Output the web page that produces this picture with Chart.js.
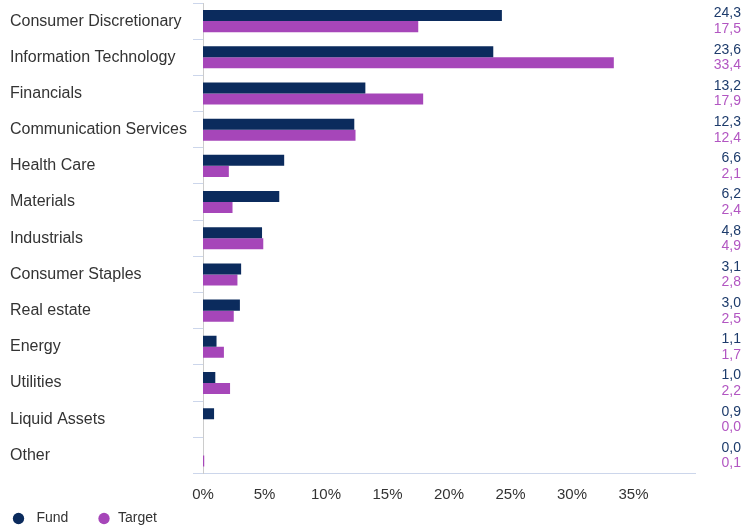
<!DOCTYPE html>
<html>
<head>
<meta charset="utf-8">
<script src="https://cdn.jsdelivr.net/npm/chart.js@4.4.1/dist/chart.umd.min.js"></script>
<style>
  html, body { margin: 0; padding: 0; background: #fff; }
  #wrap { width: 743px; height: 529px; }
</style>
</head>
<body>
<div id="wrap"><canvas id="chart"></canvas></div>
<script>
// Sector weights, in percent
const sectors = ['Consumer Discretionary', 'Information Technology', 'Financials', 'Communication Services',
    'Health Care', 'Materials', 'Industrials', 'Consumer Staples', 'Real estate', 'Energy',
    'Utilities', 'Liquid Assets', 'Other'];
const fundValues = [24.3, 23.6, 13.2, 12.3, 6.6, 6.2, 4.8, 3.1, 3.0, 1.1, 1.0, 0.9, 0.0];
const targetValues = [17.5, 33.4, 17.9, 12.4, 2.1, 2.4, 4.9, 2.8, 2.5, 1.7, 2.2, 0.0, 0.1];
const xTicks = [0, 5, 10, 15, 20, 25, 30, 35];

const fontFamily = '"Liberation Sans", Arial, sans-serif';
const fundColor = '#0b2b5d';
const targetColor = '#a646b9';

// Draw the value column at the right edge of the canvas
const valueLabels = {
    id: 'valueLabels',
    afterDatasetsDraw(chart) {
        const ctx = chart.ctx;
        const textColors = ['#1d3b6b', '#b256c2'];
        const offsets = [-2, 2.5];
        ctx.save();
        ctx.font = '14px ' + fontFamily;
        ctx.textAlign = 'right';
        ctx.textBaseline = 'middle';
        chart.data.datasets.forEach((ds, i) => {
            const meta = chart.getDatasetMeta(i);
            ctx.fillStyle = textColors[i];
            meta.data.forEach((bar, j) => {
                const text = ds.data[j].toFixed(1).replace('.', ',');
                ctx.fillText(text, chart.width - 2, bar.y + offsets[i]);
            });
        });
        ctx.restore();
    }
};

new Chart(document.getElementById('chart'), {
    type: 'bar',
    data: {
        labels: sectors,
        datasets: [{
            label: 'Fund',
            data: fundValues,
            backgroundColor: fundColor,
            barPercentage: 1.0,
            categoryPercentage: 0.61
        }, {
            label: 'Target',
            data: targetValues,
            backgroundColor: targetColor,
            barPercentage: 1.0,
            categoryPercentage: 0.61
        }]
    },
    options: {
        indexAxis: 'y',
        responsive: true,
        maintainAspectRatio: false,
        animation: false,
        layout: {
            padding: { left: 10, right: 48, top: 3, bottom: -6.5 }
        },
        plugins: {
            legend: {
                position: 'bottom',
                align: 'start',
                labels: {
                    usePointStyle: true,
                    pointStyle: 'circle',
                    boxWidth: 14,
                    boxHeight: 8,
                    padding: 1.5,
                    color: '#333333',
                    font: { size: 14, family: fontFamily },
                    // spaces only widen the gaps between the legend entries
                    generateLabels(chart) {
                        const items = Chart.defaults.plugins.legend.labels.generateLabels(chart);
                        items.forEach((item, i) => {
                            if (i === 0) item.text = ' ' + item.text + '       ';
                        });
                        return items;
                    }
                }
            },
            tooltip: { enabled: false }
        },
        scales: {
            x: {
                min: 0,
                max: 40,
                afterBuildTicks(scale) {
                    scale.ticks = xTicks.concat([40]).map(v => ({ value: v }));
                },
                afterFit(scale) {
                    scale.height = 36.5;
                },
                grid: { display: false },
                border: { display: true, color: '#ccd6eb', width: 1 },
                ticks: {
                    color: '#333333',
                    padding: 4,
                    maxRotation: 0,
                    font: { size: 15, family: fontFamily },
                    callback: v => (v === 40 ? '' : v + '%')
                }
            },
            y: {
                afterFit(scale) {
                    scale.width = 193;
                    scale.paddingTop = 0;
                    scale.paddingBottom = 0;
                },
                grid: {
                    drawOnChartArea: false,
                    tickLength: 10,
                    color: '#ccd6eb'
                },
                border: { display: true, color: '#cccccc', width: 1 },
                ticks: {
                    crossAlign: 'far',
                    color: '#333333',
                    font: { size: 16, family: fontFamily }
                }
            }
        }
    },
    plugins: [valueLabels]
});
</script>
</body>
</html>
